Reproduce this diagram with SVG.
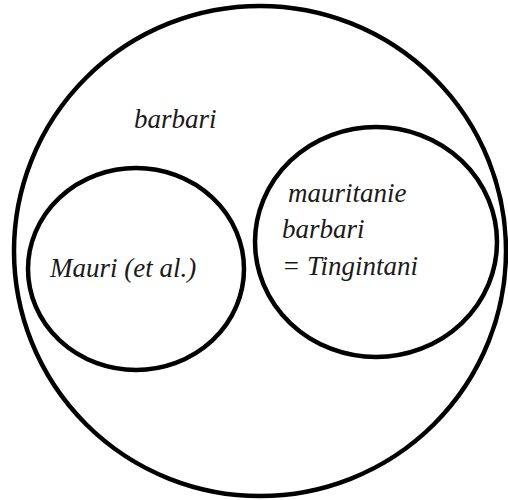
<svg xmlns="http://www.w3.org/2000/svg" width="508" height="500" viewBox="0 0 508 500">
<defs>
<style>
.c{fill:none;stroke:#000;stroke-width:4.5}
</style>
</defs>
<rect width="508" height="500" fill="#fff"/>
<g id="outer">
<ellipse class="c" cx="260" cy="251" rx="246" ry="245"/>
<text x="134" y="128" font-family="Liberation Serif" font-style="italic" font-size="27" fill="#1a1a1a">barbari</text>
</g>
<g id="mauri">
<ellipse class="c" cx="136" cy="269" rx="108" ry="101"/>
<text x="50" y="277" font-family="Liberation Serif" font-style="italic" font-size="27" fill="#1a1a1a">Mauri (et al.)</text>
</g>
<g id="tingitani">
<ellipse class="c" cx="376" cy="242" rx="121" ry="115"/>
<text x="288" y="202" font-family="Liberation Serif" font-style="italic" font-size="27" fill="#1a1a1a">mauritanie</text>
<text x="282" y="238" font-family="Liberation Serif" font-style="italic" font-size="27" fill="#1a1a1a">barbari</text>
<text x="282" y="275" font-family="Liberation Serif" font-style="italic" font-size="27" fill="#1a1a1a">= Tingintani</text>
</g>
<g id="connectors"/>
</svg>
